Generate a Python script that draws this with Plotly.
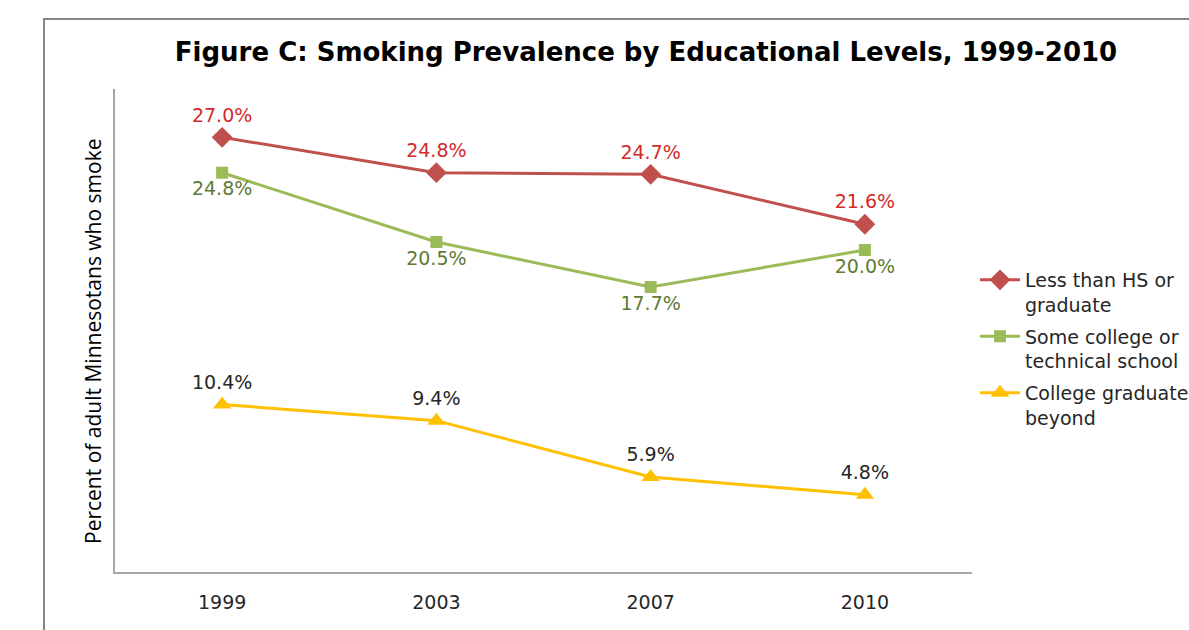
import plotly.graph_objects as go

years = ["1999", "2003", "2007", "2010"]
less_hs = [27.0, 24.8, 24.7, 21.6]
some_college = [24.8, 20.5, 17.7, 20.0]
college_grad = [10.4, 9.4, 5.9, 4.8]

names = ["Less than HS or<br>graduate", "Some college or<br>technical school", "College graduate<br>beyond"]
line_colors = ["#C0504D", "#9BBB59", "#FFC000"]
label_colors = ["#D42A2A", "#5F7A33", "#262626"]
symbols = ["diamond", "square", "triangle-up"]
sizes = [16, 12, 16]
positions = ["top center", "bottom center", "top center"]

fig = go.Figure()
for i, (vals, name, lc, tc, sym, sz, pos) in enumerate(zip(
    [less_hs, some_college, college_grad], names, line_colors, label_colors, symbols, sizes, positions
)):
    fig.add_trace(go.Scatter(
        x=years, y=vals, name=name, mode="lines+markers+text", legendgroup=f"g{i}",
        line=dict(color=lc, width=3),
        marker=dict(symbol=sym, size=sz, color=lc),
        text=[f"{v:.1f}%" for v in vals],
        textposition=pos,
        textfont=dict(family="DejaVu Sans", size=19, color=tc),
    ))

fig.update_layout(
    width=1189, height=630,
    margin=dict(l=115, r=217, t=89, b=58, autoexpand=False),
    paper_bgcolor="white", plot_bgcolor="white",
    title=dict(text="<b>Figure C: Smoking Prevalence by Educational Levels, 1999-2010</b>",
               x=646 / 1189, xanchor="center", y=1 - 52 / 630, yanchor="middle",
               font=dict(family="DejaVu Sans", size=26, color="black")),
    xaxis=dict(type="category", range=[-0.5, 3.5], showline=True, linecolor="#A6A6A6", linewidth=1.5,
               showgrid=False, ticks="", zeroline=False,
               tickfont=dict(family="DejaVu Sans", size=19, color="#262626"), ticklabelstandoff=12),
    yaxis=dict(range=[0, 30], showline=True, linecolor="#A6A6A6", linewidth=1.5, showgrid=False,
               showticklabels=False, ticks="", zeroline=False),
    legend=dict(x=(975 - 115) / 857, xanchor="left", y=1 - (261 - 89) / 483, yanchor="top",
                font=dict(family="DejaVu Sans", size=19, color="#262626"),
                tracegroupgap=4, valign="top", itemwidth=40,
                bgcolor="rgba(0,0,0,0)"),
    showlegend=True,
)

fig.add_annotation(text="Percent of adult Minnesotans who smoke", textangle=-90,
                   xref="paper", yref="paper", x=(93 - 115) / 857, y=1 - (341 - 89) / 483,
                   xanchor="center", yanchor="middle", showarrow=False,
                   font=dict(family="Open Sans", size=21, color="black"))

# outer chart-area border (cut off at right and bottom)
fig.add_shape(type="rect", xref="paper", yref="paper",
              x0=-71 / 857, x1=1300 / 857, y0=-1.0, y1=1 + 70 / 483,
              line=dict(color="#868686", width=2), fillcolor="rgba(0,0,0,0)", layer="below")

fig.write_html("out.html", config={"displayModeBar": False},
               post_script="document.body.style.margin='0';document.body.style.overflow='hidden';")
